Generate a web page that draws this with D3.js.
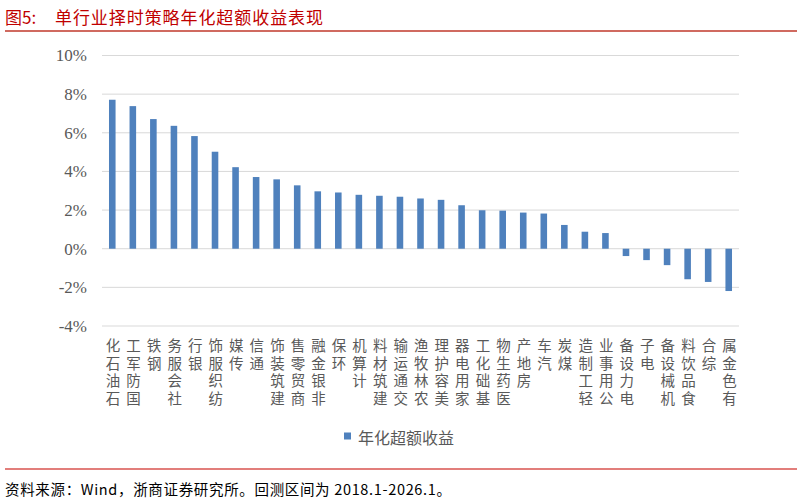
<!DOCTYPE html>
<html><head><meta charset="utf-8">
<script src="https://cdn.jsdelivr.net/npm/d3@7"></script>
<style>
html,body{margin:0;padding:0;background:#fff;}
svg{display:block;}
</style></head>
<body>
<svg id="chart" width="802" height="500"></svg>
<script>
const categories = ["石油石化","国防军工","钢铁","社会服务","银行","纺织服饰","传媒","通信","建筑装饰","商贸零售","非银金融","环保","计算机","建筑材料","交通运输","农林牧渔","美容护理","家用电器","基础化工","医药生物","房地产","汽车","煤炭","轻工制造","公用事业","电力设备","电子","机械设备","食品饮料","综合","有色金属"];
const values = [7.71,7.38,6.71,6.36,5.83,5.02,4.22,3.71,3.59,3.28,2.97,2.91,2.79,2.74,2.69,2.60,2.53,2.25,1.99,1.97,1.87,1.82,1.23,0.88,0.81,-0.38,-0.59,-0.85,-1.58,-1.72,-2.19];
const yTicks = [-4,-2,0,2,4,6,8,10];
const seriesName = "年化超额收益";
const titleLabel = "图5:";
const titleText = "单行业择时策略年化超额收益表现";
const sourceText = "资料来源：Wind，浙商证券研究所。回测区间为 2018.1-2026.1。";

const svg = d3.select("#chart");
const cjk = "'Noto Sans CJK SC','Noto Sans',sans-serif";
const serif = "'Liberation Serif','Times New Roman',serif";
const red = "#c00000";

// title
svg.append("text").attr("x",5).attr("y",16).attr("dominant-baseline","central")
  .attr("fill",red).attr("font-family",cjk).attr("font-size",17).text(titleLabel);
svg.append("text").attr("x",55).attr("y",16).attr("dominant-baseline","central")
  .attr("fill",red).attr("font-family",cjk).attr("font-size",17)
  .attr("textLength",268).attr("lengthAdjust","spacing").text(titleText);
svg.append("line").attr("x1",5).attr("x2",797).attr("y1",31).attr("y2",31)
  .attr("stroke","#c0392b").attr("stroke-width",1.5);

// scales
const x = d3.scaleBand().domain(categories).range([102,739]).paddingInner(0.68).paddingOuter(0.34);
const y = d3.scaleLinear().domain([-4,10]).range([326,55.5]);

// gridlines
svg.append("g").selectAll("line").data(yTicks).join("line")
  .attr("x1",102).attr("x2",739)
  .attr("y1",d=>y(d)).attr("y2",d=>y(d))
  .attr("stroke","#d9d9d9").attr("stroke-width",1);

// y axis labels
const yAxis = d3.axisLeft(y).tickValues(yTicks).tickSize(0).tickPadding(0).tickFormat(d=>d+"%");
const gy = svg.append("g").attr("transform","translate(87,0)").call(yAxis);
gy.select(".domain").remove();
gy.selectAll("text").attr("font-family",serif).attr("font-size",17).attr("fill","#595959");

// bars
svg.append("g").selectAll("rect").data(values).join("rect")
  .attr("x",(d,i)=>x(categories[i]))
  .attr("width",x.bandwidth())
  .attr("y",d=>y(Math.max(0,d)))
  .attr("height",d=>Math.abs(y(d)-y(0)))
  .attr("fill","#4f81bd");

// x labels: text rotated -90 (reads bottom-to-top), each glyph turned upright
const fs = 14.5, step = 17.6, topY = 351;
const gx = svg.append("g");
categories.forEach(c=>{
  const n = Array.from(c).length;
  const cx = x(c) + x.bandwidth()/2 + 1.5;
  const xs = d3.range(n).map(i => -(topY + (n-1-i)*step));
  gx.append("text")
    .attr("transform",`translate(${cx},0) rotate(-90)`)
    .attr("x", xs.join(" "))
    .attr("y", -fs)
    .attr("rotate", "90")
    .attr("font-family",cjk).attr("font-size",fs)
    .attr("fill","#595959").attr("dominant-baseline","central")
    .text(c);
});

// legend
svg.append("rect").attr("x",344).attr("y",432.5).attr("width",7).attr("height",7).attr("fill","#4f81bd");
svg.append("text").attr("x",358).attr("y",437).attr("dominant-baseline","central")
  .attr("font-family",cjk).attr("font-size",16).attr("fill","#595959").text(seriesName);

// footer
svg.append("line").attr("x1",5).attr("x2",797).attr("y1",469).attr("y2",469)
  .attr("stroke","#d9534f").attr("stroke-width",1.5);
svg.append("text").attr("x",5).attr("y",488).attr("dominant-baseline","central")
  .attr("font-family",cjk).attr("font-size",14.5).attr("fill","#000")
  .attr("textLength",446).attr("lengthAdjust","spacing").text(sourceText);
</script>
</body></html>
